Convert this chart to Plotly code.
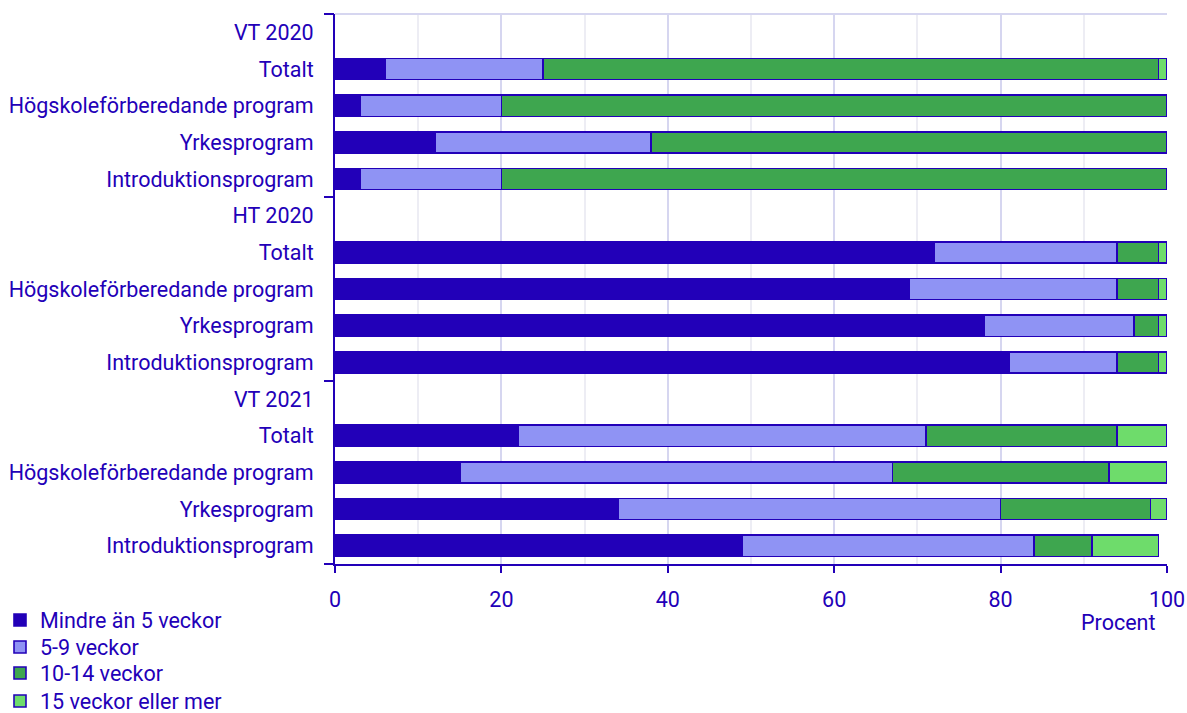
import plotly.graph_objects as go

categories = [
    'VT 2020', 'Totalt', 'Högskoleförberedande program', 'Yrkesprogram', 'Introduktionsprogram',
    'HT 2020', 'Totalt', 'Högskoleförberedande program', 'Yrkesprogram', 'Introduktionsprogram',
    'VT 2021', 'Totalt', 'Högskoleförberedande program', 'Yrkesprogram', 'Introduktionsprogram',
]
# None = group header row without bars
under_5 = [None, 6, 3, 12, 3, None, 72, 69, 78, 81, None, 22, 15, 34, 49]
weeks_5_9 = [None, 19, 17, 26, 17, None, 22, 25, 18, 13, None, 49, 52, 46, 35]
weeks_10_14 = [None, 74, 80, 62, 80, None, 5, 5, 3, 5, None, 23, 26, 18, 7]
weeks_15_plus = [None, 1, 0, 0, 0, None, 1, 1, 1, 1, None, 6, 7, 2, 8]

series_names = ['Mindre än 5 veckor', '5-9 veckor', '10-14 veckor', '15 veckor eller mer']
series_values = [under_5, weeks_5_9, weeks_10_14, weeks_15_plus]
group_edges = [-0.5, 4.5, 9.5, 14.5]

COLORS = ['#2200b8', '#8f93f4', '#3ea64f', '#6edc6b']
TEXT = '#2200b8'
FONT = 'Roboto, Arial, sans-serif'
FS = 21.5

# repeated labels need to be unique categories: pad with zero-width spaces per group
y_keys = [c + '\u200b' * (i // 5) for i, c in enumerate(categories)]

fig = go.Figure()
legend_ids = ['legend', 'legend2', 'legend3', 'legend4']
for name, vals, color, lg in zip(series_names, series_values, COLORS, legend_ids):
    fig.add_trace(go.Bar(
        y=y_keys,
        x=vals,
        name=name,
        orientation='h',
        legend=lg,
        marker=dict(color=color, line=dict(color=TEXT, width=1.6)),
    ))

# invisible trace to carry the boundary ticks on a second y axis
fig.add_trace(go.Scatter(x=[None], y=[None], yaxis='y2', showlegend=False))

legend_y = [0.1304, 0.0926, 0.0561, 0.0168]
legends = {}
for lg, ly in zip(legend_ids, legend_y):
    legends[lg] = dict(
        xref='paper', yref='container',
        x=-0.4185, y=ly,
        xanchor='left', yanchor='middle',
        font=dict(size=FS, color=TEXT),
        itemwidth=30,
        bgcolor='rgba(0,0,0,0)',
    )

fig.update_layout(
    width=1187,
    height=713,
    barmode='stack',
    bargap=0.42,
    paper_bgcolor='white',
    plot_bgcolor='white',
    font=dict(family=FONT, size=FS, color=TEXT),
    margin=dict(l=335, r=20, t=14, b=149),
    xaxis=dict(
        range=[0, 100],
        dtick=20,
        automargin=False,
        showgrid=True,
        gridcolor='#d6d6f0',
        gridwidth=1.5,
        minor=dict(dtick=10, showgrid=True, gridcolor='#ededf4', gridwidth=1.5),
        showline=True,
        linecolor=TEXT,
        linewidth=2,
        ticks='outside',
        ticklen=7,
        tickwidth=2,
        tickcolor=TEXT,
        ticklabelstandoff=8,
        zeroline=False,
        tickfont=dict(size=FS, color=TEXT),
    ),
    yaxis=dict(
        autorange='reversed',
        automargin=False,
        showline=True,
        linecolor=TEXT,
        linewidth=2,
        ticks='',
        showgrid=False,
        ticklabelstandoff=15,
        tickfont=dict(size=FS, color=TEXT),
    ),
    yaxis2=dict(
        overlaying='y',
        side='left',
        automargin=False,
        range=[14.5, -0.5],
        tickvals=group_edges,
        showticklabels=False,
        ticks='outside',
        ticklen=10,
        tickwidth=2,
        tickcolor=TEXT,
        showgrid=False,
        zeroline=False,
        showline=False,
    ),
    shapes=[
        dict(type='line', xref='paper', yref='paper', x0=0, x1=1, y0=1, y1=1,
             line=dict(color='#d6d6f0', width=2)),
    ],
    annotations=[
        dict(text='Procent', xref='paper', yref='paper', x=1, y=0,
             xanchor='right', yanchor='top', xshift=-10, yshift=-44,
             showarrow=False, font=dict(size=FS, color=TEXT)),
    ],
    **legends,
)

fig.write_html(
    'out.html',
    config={'displayModeBar': False},
    post_script="document.body.style.margin='0px';document.body.style.overflow='hidden';",
)
